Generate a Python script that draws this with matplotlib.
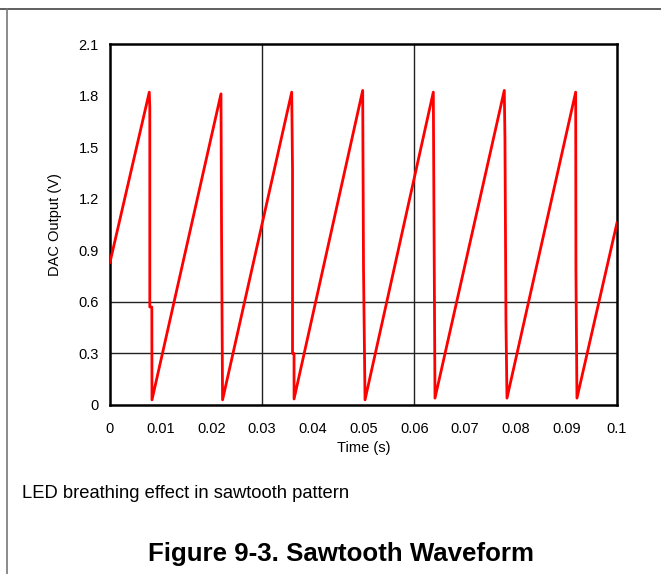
import matplotlib
matplotlib.use('Agg')
import matplotlib.pyplot as plt
from matplotlib.lines import Line2D

plt.rcParams['font.family'] = ['Liberation Sans', 'DejaVu Sans']

# sawtooth breakpoints (time s, volts)
t = [0.0, 0.00775, 0.00785, 0.00785, 0.00825, 0.00828,
     0.02189, 0.0220, 0.0220, 0.0222,
     0.03584, 0.0360, 0.0360, 0.0363, 0.0363,
     0.04984, 0.0500, 0.0503,
     0.06377, 0.0639, 0.0641,
     0.07777, 0.0779, 0.0781, 0.0781, 0.0783,
     0.09185, 0.0919, 0.0921,
     0.1]
v = [0.83, 1.82, 1.73, 0.57, 0.57, 0.03,
     1.81, 1.01, 1.01, 0.03,
     1.82, 1.37, 0.30, 0.30, 0.035,
     1.83, 0.80, 0.03,
     1.82, 1.10, 0.04,
     1.83, 1.55, 0.48, 0.48, 0.04,
     1.82, 0.785, 0.04,
     1.06]

xticks = [0, 0.01, 0.02, 0.03, 0.04, 0.05, 0.06, 0.07, 0.08, 0.09, 0.1]
xlabels = ['0', '0.01', '0.02', '0.03', '0.04', '0.05', '0.06', '0.07', '0.08', '0.09', '0.1']
yticks = [0, 0.3, 0.6, 0.9, 1.2, 1.5, 1.8, 2.1]
ylabels = ['0', '0.3', '0.6', '0.9', '1.2', '1.5', '1.8', '2.1']
vgrid = [0.03, 0.06]
hgrid = [0.3, 0.6]

fig = plt.figure(figsize=(6.61, 5.74), dpi=100)
ax = fig.add_axes([110/661, 169/574, 507/661, 361/574])

for g in vgrid:
    ax.axvline(g, color='#222222', lw=1)
for g in hgrid:
    ax.axhline(g, color='#222222', lw=1)

ax.plot(t, v, color='red', lw=2.0, zorder=3)

ax.set_xlim(0, 0.1)
ax.set_ylim(0, 2.1)
ax.set_xticks(xticks)
ax.set_xticklabels(xlabels)
ax.set_yticks(yticks)
ax.set_yticklabels(ylabels)
ax.tick_params(length=0, labelsize=10.5)
ax.tick_params(axis='x', pad=12)
ax.tick_params(axis='y', pad=8)
for s in ax.spines.values():
    s.set_linewidth(1.8)
ax.set_xlabel('Time (s)', fontsize=10.5, labelpad=4)
ax.set_ylabel('DAC Output (V)', fontsize=10.5, labelpad=12)

# page frame lines
fig.add_artist(Line2D([0, 1], [1 - 9/574, 1 - 9/574], color='#444444', lw=1.2))
fig.add_artist(Line2D([7/661, 7/661], [0, 1 - 9/574], color='#777777', lw=1.2))

fig.text(22/661, 1 - 493/574, 'LED breathing effect in sawtooth pattern', fontsize=13.2, va='center')
fig.text(341/661, 1 - 554/574, 'Figure 9-3. Sawtooth Waveform', fontsize=18.6, fontweight='bold',
         ha='center', va='center')

fig.savefig('out.png', dpi=100)
